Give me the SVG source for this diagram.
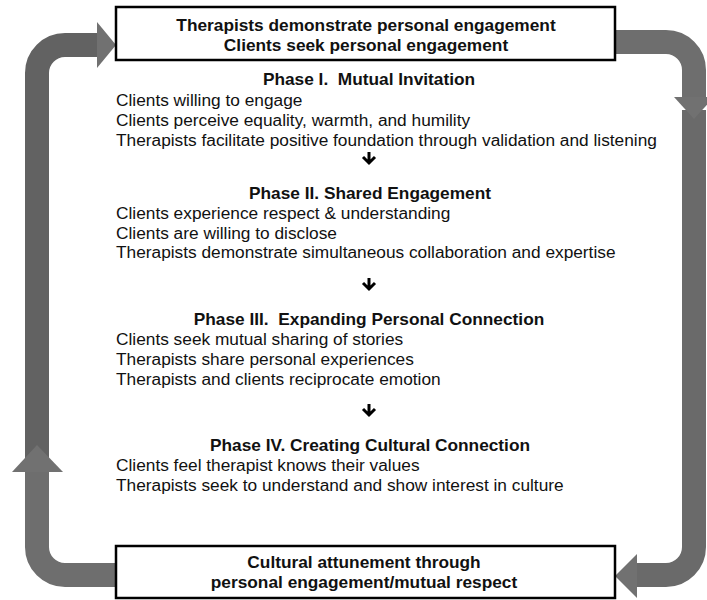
<svg xmlns="http://www.w3.org/2000/svg" width="707" height="600" viewBox="0 0 707 600">
<style>
.t{font-family:"Liberation Sans",Arial,sans-serif;font-size:17.3px;fill:#111}
.b{font-weight:bold;text-anchor:middle}
.box{fill:#fff;stroke:#000;stroke-width:2.5}
.bar{fill:none;stroke:#6e6e6e;stroke-width:24}
.head{fill:#717171}
.dn{fill:none;stroke:#000;stroke-width:3}
</style>
<rect width="707" height="600" fill="#fff"/>
<g id="connectors">
  <path class="bar" d="M37,462 V73 A28,28 0 0 1 65,45 H98" style="stroke:#626262"/>
  <polygon class="head" points="97,22 116,45 97,68"/>
  <path class="bar" d="M116,575 H65 A28,28 0 0 1 37,547 V471"/>
  <polygon class="head" points="12,472 37,445 63,472"/>
  <path class="bar" d="M694,110 V547 A28,28 0 0 1 666,575 H636" style="stroke:#6a6a6a"/>
  <polygon class="head" points="637,554 615,576 637,598"/>
  <path class="bar" d="M615,42 H666 A28,28 0 0 1 694,70 V98"/>
  <polygon class="head" points="674,97 694,119 714,97"/>
  <g id="phase-arrows">
    <path class="dn" d="M369,152 V163 M363,157 L369,163 L375,157"/>
    <path class="dn" d="M369,278 V289 M363,283 L369,289 L375,283"/>
    <path class="dn" d="M369,404 V415 M363,409 L369,415 L375,409"/>
  </g>
</g>
<g id="top-box">
  <rect class="box" x="116" y="7" width="499" height="53"/>
  <text class="t b" x="366" y="31">Therapists demonstrate personal engagement</text>
  <text class="t b" x="366" y="51">Clients seek personal engagement</text>
</g>
<g id="phase-1">
  <text class="t b" x="369" y="85" xml:space="preserve">Phase I.  Mutual Invitation</text>
  <text class="t" x="116" y="106">Clients willing to engage</text>
  <text class="t" x="116" y="126">Clients perceive equality, warmth, and humility</text>
  <text class="t" x="116" y="146">Therapists facilitate positive foundation through validation and listening</text>
</g>
<g id="phase-2">
  <text class="t b" x="370" y="199">Phase II. Shared Engagement</text>
  <text class="t" x="116" y="219">Clients experience respect &amp; understanding</text>
  <text class="t" x="116" y="239">Clients are willing to disclose</text>
  <text class="t" x="116" y="258">Therapists demonstrate simultaneous collaboration and expertise</text>
</g>
<g id="phase-3">
  <text class="t b" x="369" y="325" xml:space="preserve">Phase III.  Expanding Personal Connection</text>
  <text class="t" x="116" y="345">Clients seek mutual sharing of stories</text>
  <text class="t" x="116" y="365">Therapists share personal experiences</text>
  <text class="t" x="116" y="385">Therapists and clients reciprocate emotion</text>
</g>
<g id="phase-4">
  <text class="t b" x="370" y="451">Phase IV. Creating Cultural Connection</text>
  <text class="t" x="116" y="471">Clients feel therapist knows their values</text>
  <text class="t" x="116" y="491">Therapists seek to understand and show interest in culture</text>
</g>
<g id="bottom-box">
  <rect class="box" x="116" y="546" width="499" height="52"/>
  <text class="t b" x="364" y="568">Cultural attunement through</text>
  <text class="t b" x="364" y="588">personal engagement/mutual respect</text>
</g>
</svg>
